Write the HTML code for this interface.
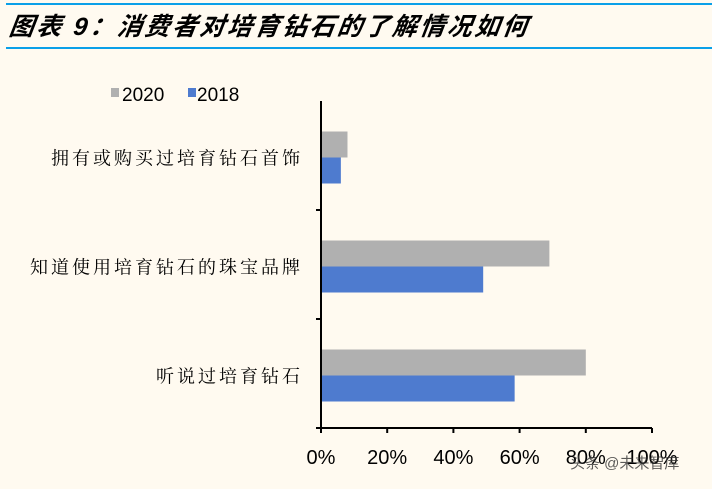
<!DOCTYPE html>
<html><head><meta charset="utf-8"><style>
body{margin:0;background:#fffaf0;}
svg{display:block;}
</style></head><body>
<svg width="712" height="489" viewBox="0 0 712 489">
<rect width="712" height="489" fill="#fffaf0"/>
<line x1="6" y1="4" x2="712" y2="4" stroke="#0aa0e8" stroke-width="2"/>
<line x1="6" y1="48" x2="712" y2="48" stroke="#0aa0e8" stroke-width="2"/>
<text x="8" y="35" font-family="'Liberation Sans','Noto Sans CJK SC',sans-serif" font-size="25" font-weight="bold" font-style="italic" letter-spacing="2.5" fill="#000" transform="skewX(-8) translate(5,0)">图表 9：消费者对培育钻石的了解情况如何</text>
<g>
<rect x="111" y="88" width="8" height="9" fill="#b0b0b0"/>
<text x="122" y="101" font-family="'Liberation Sans',sans-serif" font-size="19" fill="#000">2020</text>
<rect x="188" y="88" width="8" height="9" fill="#4e7bcf"/>
<text x="197" y="101" font-family="'Liberation Sans',sans-serif" font-size="19" fill="#000">2018</text>
</g>
<g id="plot"></g>
<text x="570" y="468" font-family="'Liberation Sans','Noto Sans CJK SC',sans-serif" font-size="15" fill="#333" opacity="0.8">头条 @未来智库</text>
</svg>
<script>
const categories=["拥有或购买过培育钻石首饰","知道使用培育钻石的珠宝品牌","听说过培育钻石"];
const values2020=[8,69,80];
const values2018=[6,49,58.5];
const xTicks=[0,20,40,60,80,100];
const xTickLabels=["0%","20%","40%","60%","80%","100%"];
const NS="http://www.w3.org/2000/svg";
const g=document.getElementById('plot');
const X0=321,X1=652,Y0=101,Y1=428;
const x=v=>X0+(v/100)*(X1-X0);
const band=(Y1-Y0)/categories.length;
const yc=i=>Y0+band*(i+0.5);
function mk(t,a){const e=document.createElementNS(NS,t);for(const k in a)e.setAttribute(k,a[k]);g.appendChild(e);return e;}
categories.forEach((c,i)=>{
  const cy=yc(i)+2;
  let r=mk('rect',{x:X0,y:cy-26,width:x(values2020[i])-X0,height:26,fill:'#b0b0b0'});
  
  
  let b=mk('rect',{x:X0,y:cy,width:x(values2018[i])-X0,height:26,fill:'#4e7bcf'});
  
  
  let t=mk('text',{x:303,y:cy+7,'text-anchor':'end','font-family':"'Liberation Serif','Noto Serif CJK SC',serif",'font-size':'18','letter-spacing':'3',fill:'#000'});
  t.textContent=c;
  
  
});
for(let i=1;i<categories.length;i++){
  const ty=Y0+band*i;
  let tk=mk('line',{x1:316,y1:ty,x2:X0,y2:ty,stroke:'#000','stroke-width':2});
  
  
}
let ya=mk('line',{x1:X0,y1:Y0,x2:X0,y2:Y1,stroke:'#000','stroke-width':2});


let xa=mk('line',{x1:316,y1:Y1,x2:X1,y2:Y1,stroke:'#000','stroke-width':2});


xTicks.forEach((v,i)=>{
  let tk=mk('line',{x1:x(v),y1:Y1,x2:x(v),y2:Y1+5,stroke:'#000','stroke-width':2});
  
  
  let t=mk('text',{x:x(v),y:464,'text-anchor':'middle','font-family':"'Liberation Sans',sans-serif",'font-size':'20',fill:'#000'});
  t.textContent=xTickLabels[i];
  
  
});
</script>
</body></html>
